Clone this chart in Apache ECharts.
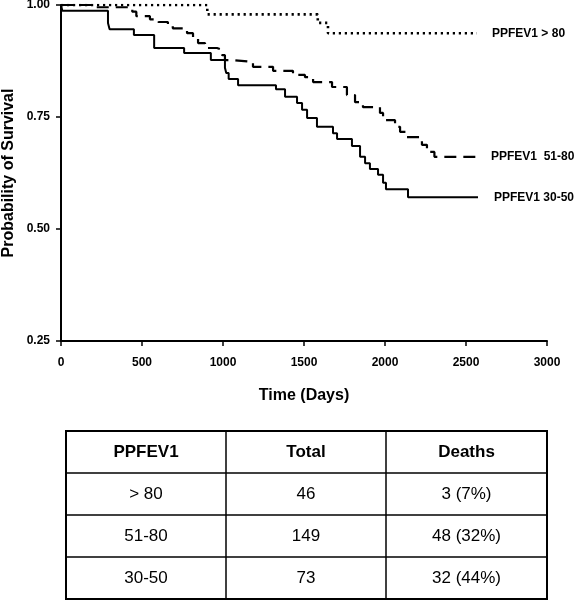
<!DOCTYPE html>
<html>
<head>
<meta charset="utf-8">
<script src="https://cdn.jsdelivr.net/npm/echarts@6/dist/echarts.min.js"></script>
<style>html,body{margin:0;padding:0;background:#fff}#c{width:577px;height:600px}</style>
</head>
<body>
<div id="c"></div>
<script>
// ---- data ----
const groupNames = ['PPFEV1 > 80', 'PPFEV1  51-80', 'PPFEV1 30-50'];
const timeGt80 = [0, 903, 1585, 1648, 2568];
const survGt80 = [1.0, 0.979, 0.960, 0.937, 0.937];
const time51to80 = [0, 220, 440, 465, 549, 600, 660, 690, 778, 815, 846, 889, 963, 994, 1012, 1062, 1185, 1309, 1432, 1506, 1556, 1673, 1765, 1815, 1864, 1969, 1988, 2062, 2093, 2136, 2228, 2259, 2305, 2580];
const surv51to80 = [1.0, 0.995, 0.985, 0.975, 0.968, 0.962, 0.955, 0.948, 0.937, 0.926, 0.915, 0.904, 0.900, 0.888, 0.877, 0.873, 0.862, 0.853, 0.844, 0.839, 0.828, 0.817, 0.799, 0.783, 0.772, 0.759, 0.743, 0.728, 0.717, 0.705, 0.688, 0.672, 0.661, 0.661];
const time30to50 = [0, 8, 290, 300, 450, 575, 760, 925, 1012, 1020, 1035, 1093, 1327, 1383, 1457, 1488, 1519, 1580, 1679, 1704, 1796, 1846, 1877, 1907, 1957, 1988, 2006, 2142, 2574];
const surv30to50 = [1.0, 0.987, 0.960, 0.946, 0.933, 0.904, 0.893, 0.877, 0.860, 0.848, 0.835, 0.821, 0.812, 0.795, 0.781, 0.766, 0.748, 0.728, 0.714, 0.701, 0.685, 0.661, 0.647, 0.634, 0.621, 0.603, 0.589, 0.571, 0.571];
const xTicks = [0, 500, 1000, 1500, 2000, 2500, 3000];
const yTicks = [0.25, 0.50, 0.75, 1.00];
const tableHeader = ['PPFEV1', 'Total', 'Deaths'];
const tableCol1 = ['> 80', '51-80', '30-50'];
const tableCol2 = ['46', '149', '73'];
const tableCol3 = ['3 (7%)', '48 (32%)', '32 (44%)'];

// ---- chart ----
const FONT = '"Liberation Sans", Arial, Helvetica, sans-serif';
const zip = (t, s) => t.map((v, i) => [v, s[i]]);
const chart = echarts.init(document.getElementById('c'), null, {renderer: 'canvas'});

const lineTypes = [[2.2, 3.8], [12, 7], 'solid'];
const widths = [2.6, 2.2, 2];
const labelDist = [15, 12, 16];
const datasets = [zip(timeGt80, survGt80), zip(time51to80, surv51to80), zip(time30to50, surv30to50)];

const series = datasets.map((d, i) => ({
  name: groupNames[i],
  type: 'line',
  step: 'end',
  data: d,
  showSymbol: false,
  symbol: 'none',
  lineStyle: {color: '#000', width: widths[i], type: lineTypes[i], cap: 'butt'},
  endLabel: {
    show: true,
    formatter: '{a}',
    distance: labelDist[i],
    color: '#000',
    fontFamily: FONT,
    fontWeight: 'bold',
    fontSize: 12
  },
  silent: true
}));

// table graphic
const tLeft = 66, tRight = 547, tTop = 431, rowH = 42;
const colX = [tLeft, 226, 386, tRight];
const nRows = 1 + tableCol1.length;
const graphics = [];
graphics.push({type: 'rect', shape: {x: tLeft, y: tTop, width: tRight - tLeft, height: rowH * nRows}, style: {fill: 'none', stroke: '#000', lineWidth: 2}});
for (let r = 1; r < nRows; r++) {
  graphics.push({type: 'line', shape: {x1: tLeft, y1: tTop + r * rowH, x2: tRight, y2: tTop + r * rowH}, style: {stroke: '#000', lineWidth: 1.5}});
}
for (let c = 1; c < 3; c++) {
  graphics.push({type: 'line', shape: {x1: colX[c], y1: tTop, x2: colX[c], y2: tTop + rowH * nRows}, style: {stroke: '#000', lineWidth: 1.5}});
}
const rows = [tableHeader].concat(tableCol1.map((v, i) => [v, tableCol2[i], tableCol3[i]]));
rows.forEach((row, r) => {
  row.forEach((txt, c) => {
    graphics.push({
      type: 'text',
      x: (colX[c] + colX[c + 1]) / 2,
      y: tTop + r * rowH + rowH / 2,
      style: {
        text: txt, fill: '#000', font: (r === 0 ? 'bold ' : '') + '17px ' + FONT,
        textAlign: 'center', textVerticalAlign: 'middle'
      }
    });
  });
});

chart.setOption({
  animation: false,
  backgroundColor: '#fff',
  grid: {left: 61, right: 30, top: 5, bottom: 259, containLabel: false, outerBoundsMode: 'none'},
  xAxis: {
    type: 'value', min: xTicks[0], max: xTicks[xTicks.length - 1], interval: 500,
    name: 'Time (Days)', nameLocation: 'middle', nameGap: 47, nameMoveOverlap: false,
    nameTextStyle: {color: '#000', fontFamily: FONT, fontWeight: 'bold', fontSize: 16},
    axisLine: {show: true, lineStyle: {color: '#000', width: 2}},
    axisTick: {show: true, length: 5, lineStyle: {color: '#000', width: 1.5}},
    axisLabel: {color: '#000', fontFamily: FONT, fontWeight: 'bold', fontSize: 12, margin: 16,
      formatter: v => String(v)},
    splitLine: {show: false}
  },
  yAxis: {
    type: 'value', min: yTicks[0], max: yTicks[yTicks.length - 1], interval: 0.25,
    name: 'Probability of Survival', nameLocation: 'middle', nameGap: 44, nameMoveOverlap: false,
    nameTextStyle: {color: '#000', fontFamily: FONT, fontWeight: 'bold', fontSize: 16},
    axisLine: {show: true, lineStyle: {color: '#000', width: 2}},
    axisTick: {show: true, length: 5, lineStyle: {color: '#000', width: 1.5}},
    axisLabel: {color: '#000', fontFamily: FONT, fontWeight: 'bold', fontSize: 12, margin: 11,
      formatter: v => v.toFixed(2)},
    splitLine: {show: false}
  },
  series: series,
  graphic: graphics
});
</script>
</body>
</html>
